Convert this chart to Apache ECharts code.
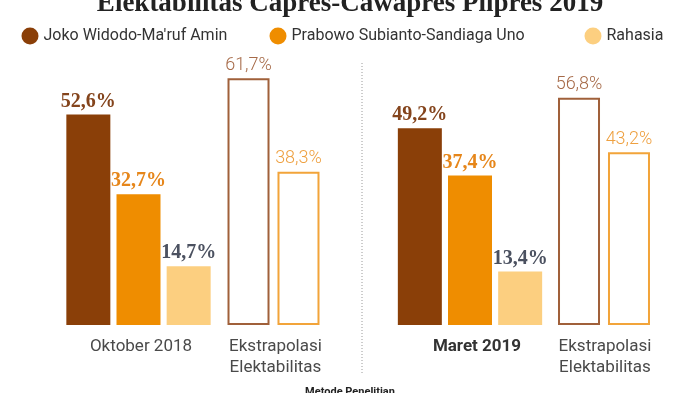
<!DOCTYPE html>
<html>
<head>
<meta charset="utf-8">
<script src="https://cdn.jsdelivr.net/npm/echarts@6/dist/echarts.min.js"></script>
<style>
html,body{margin:0;padding:0;background:#fff;}
#c{width:700px;height:393px;}
</style>
</head>
<body>
<div id="c"></div>
<script>
const titleText = 'Elektabilitas Capres-Cawapres Pilpres 2019';
const footText = 'Metode Penelitian';
const seriesNames = ["Joko Widodo-Ma'ruf Amin", 'Prabowo Subianto-Sandiaga Uno', 'Rahasia'];
const surveyLabels = ['Oktober 2018', 'Maret 2019'];
const extrapLabel = 'Ekstrapolasi\nElektabilitas';
const jokowi = [52.6, 49.2];
const prabowo = [32.7, 37.4];
const rahasia = [14.7, 13.4];
const jokowiExt = [61.7, 56.8];
const prabowoExt = [38.3, 43.2];

const C_J = '#8a3f08', C_P = '#ef8d00', C_R = '#fccf80';
const B_J = '#a0603a', B_P = '#f2a43a';
const fmt = p => p.value.toFixed(1).replace('.', ',') + '%';

const chart = echarts.init(document.getElementById('c'), null, {renderer: 'canvas'});

// grids: [left, width]
const grids = [[63.5, 150], [223.5, 100], [395, 150], [554, 100]];
const gridOpts = grids.map(g => ({left: g[0], width: g[1], top: 65, bottom: 68, containLabel: false}));
const xLabelStyle = (bold, pad) => ({
  fontFamily: 'Roboto', fontSize: 17, fontWeight: bold ? 'bold' : 'normal',
  color: bold ? '#333' : '#4a4a4a', lineHeight: 21, margin: 11, padding: [0, 0, 0, pad]
});
const xAxes = [
  {gridIndex: 0, type: 'category', data: [surveyLabels[0]], axisLabel: xLabelStyle(false, 5)},
  {gridIndex: 1, type: 'category', data: [extrapLabel], axisLabel: xLabelStyle(false, 4)},
  {gridIndex: 2, type: 'category', data: [surveyLabels[1]], axisLabel: xLabelStyle(true, 14)},
  {gridIndex: 3, type: 'category', data: [extrapLabel], axisLabel: xLabelStyle(false, 2)}
].map(a => Object.assign(a, {axisLine: {show: false}, axisTick: {show: false}}));
const yAxes = [0, 1, 2, 3].map(i => ({gridIndex: i, type: 'value', min: 0, max: 65, show: false, splitLine: {show: false}}));

const surveyLabel = color => ({
  show: true, position: 'top', distance: 3, formatter: fmt,
  fontFamily: 'Liberation Serif', fontWeight: 'bold', fontSize: 20, color: color
});
const extLabel = color => ({
  show: true, position: 'top', distance: 4, formatter: fmt,
  fontFamily: 'Roboto', fontWeight: 300, fontSize: 18, color: color
});

const series = [];
[0, 1].forEach(k => {
  const gi = k * 2;
  series.push({name: seriesNames[0], type: 'bar', xAxisIndex: gi, yAxisIndex: gi, barWidth: 44, barGap: '14%',
    data: [jokowi[k]], itemStyle: {color: C_J}, label: surveyLabel('#84441c')});
  series.push({name: seriesNames[1], type: 'bar', xAxisIndex: gi, yAxisIndex: gi, barWidth: 44, barGap: '14%',
    data: [prabowo[k]], itemStyle: {color: C_P}, label: surveyLabel('#e6861a')});
  series.push({name: seriesNames[2], type: 'bar', xAxisIndex: gi, yAxisIndex: gi, barWidth: 44, barGap: '14%',
    data: [rahasia[k]], itemStyle: {color: C_R}, label: surveyLabel('#4b5160')});
  series.push({name: 'Ekstrapolasi ' + seriesNames[0], type: 'bar', xAxisIndex: gi + 1, yAxisIndex: gi + 1, barWidth: 42, barGap: '19%',
    data: [jokowiExt[k]], itemStyle: {color: '#fff', borderColor: B_J, borderWidth: 2}, label: extLabel('#a66a48')});
  series.push({name: 'Ekstrapolasi ' + seriesNames[1], type: 'bar', xAxisIndex: gi + 1, yAxisIndex: gi + 1, barWidth: 42, barGap: '19%',
    data: [prabowoExt[k]], itemStyle: {color: '#fff', borderColor: B_P, borderWidth: 2}, label: extLabel('#eea040')});
});

const legendPos = [21.5, 269.5, 584.5];
const legends = seriesNames.map((n, i) => ({
  data: [n], left: legendPos[i], top: 27.5, padding: 0, icon: 'circle', itemWidth: 17, itemHeight: 17,
  selectedMode: false,
  textStyle: {fontFamily: 'Roboto', fontSize: 16, color: '#333'}
}));

chart.setOption({
  animation: false,
  backgroundColor: '#fff',
  grid: gridOpts,
  xAxis: xAxes,
  yAxis: yAxes,
  legend: legends,
  series: series,
  graphic: [
    {type: 'text', left: 'center', top: -9, style: {text: titleText, font: 'bold 27px "Liberation Serif"', fill: '#222'}},
    {type: 'line', shape: {x1: 362, y1: 63, x2: 362, y2: 374}, style: {stroke: '#9a9a9a', lineWidth: 1, lineDash: [1, 2]}},
    {type: 'text', left: 'center', top: 387, style: {text: footText, font: 'bold 11px Roboto', fill: '#222'}}
  ]
});
</script>
</body>
</html>
